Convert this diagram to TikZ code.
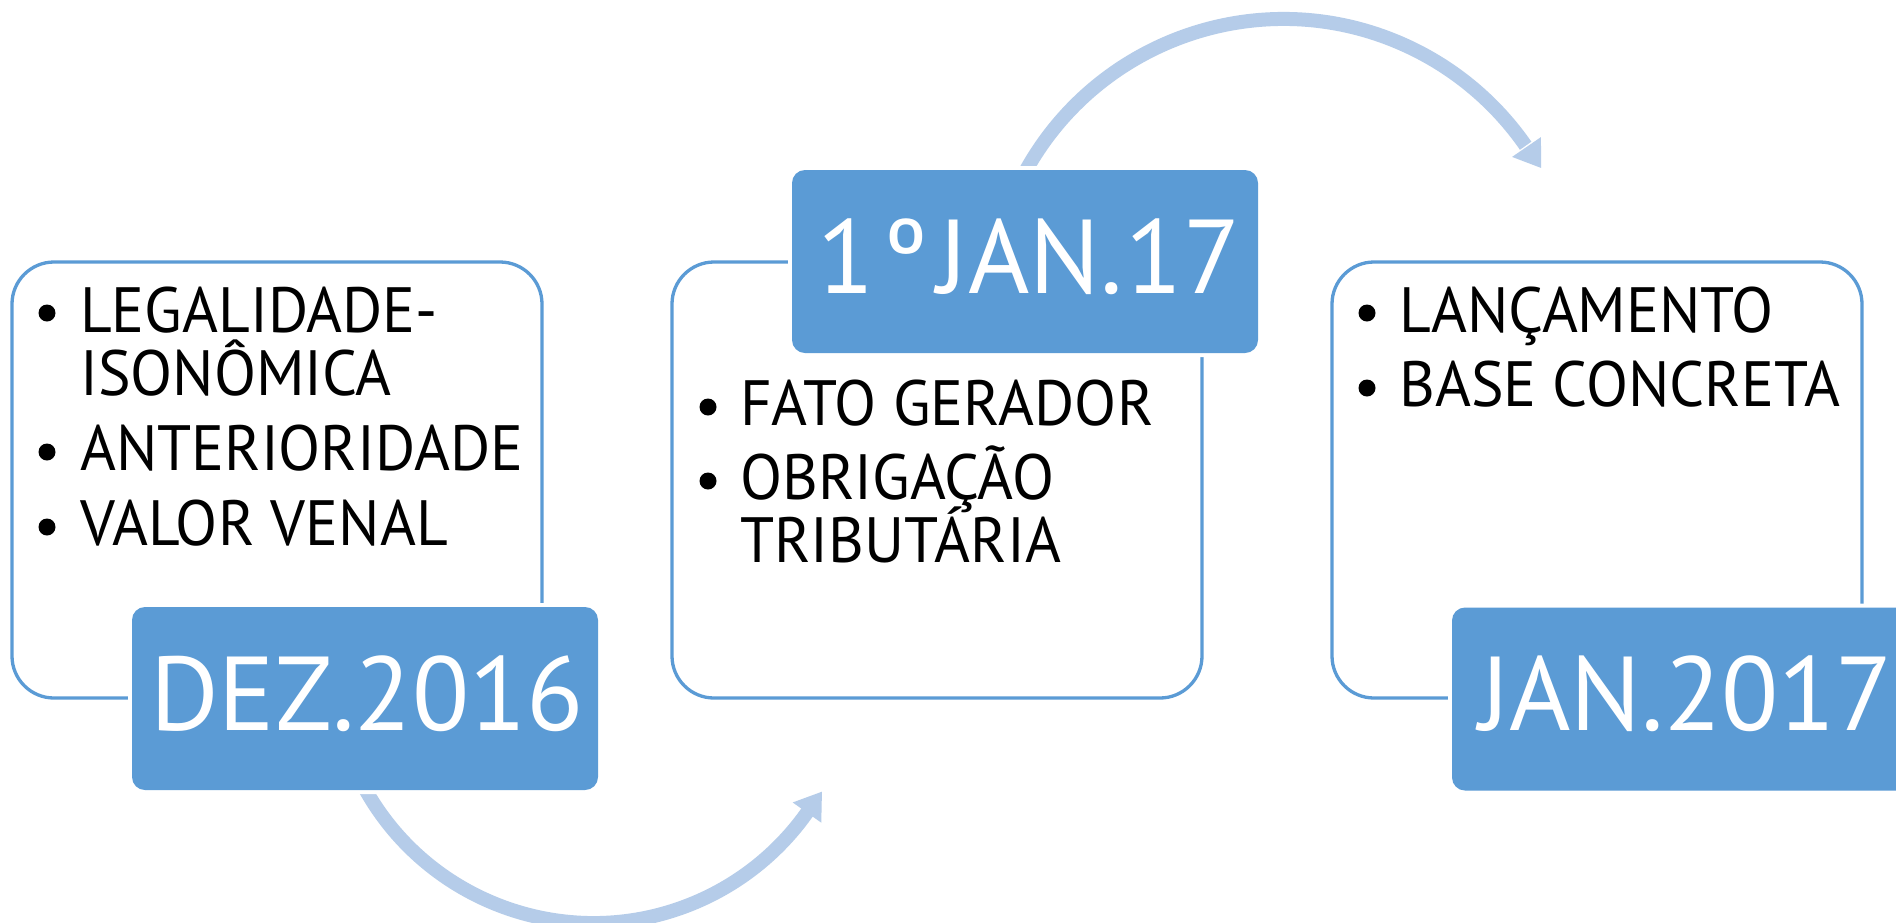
\documentclass[tikz,border=0pt]{standalone}
\usepackage{fontspec}
\setmainfont{PT Sans}
\newfontfamily\itemfont{PT Sans}[FakeStretch=0.96]
\usetikzlibrary{calc}
\definecolor{boxblue}{RGB}{91,155,213}
\definecolor{arrowblue}{RGB}{181,204,233}
\begin{document}
\begin{tikzpicture}[x=1pt,y=-1pt,
  outline/.style={draw=boxblue, line width=3.3pt, rounded corners=42pt, minimum width=530pt, minimum height=436pt, inner sep=0pt, outer sep=0pt},
  datebox/.style={fill=boxblue, rounded corners=13pt, minimum width=466pt, minimum height=183pt, inner sep=0pt, outer sep=0pt, preaction={draw=white, line width=8pt}},
  datetext/.style={text=white, font=\fontsize{105}{105}\selectfont, anchor=base, inner sep=0pt},
  item/.style={text=black, font=\itemfont\fontsize{64}{64}\selectfont, anchor=base west, inner sep=0pt},
  dot/.style={circle, fill=black, minimum size=17pt, inner sep=0pt},
  band/.style={draw=arrowblue, line width=14pt},
  head/.style={fill=arrowblue}]
\useasboundingbox (0,0) rectangle (1896,922);
\clip (0,0) rectangle (1896,922);
\fill[white] (0,0) rectangle (1896,922);
% circular arrows
\coordinate (c1) at (593.5,661.4);
\draw[band] (c1) ++(155:261.6) arc[start angle=155, end angle=35.0, radius=261.6];
\fill[head] ($(c1)+(35.3:244.1)$) -- ($(c1)+(35.3:279.1)$) -- ($(c1)+(29.7:263)$) -- cycle;
\coordinate (c2) at (1283.5,313.7);
\draw[band] (c2) ++(-155:294.7) arc[start angle=-155, end angle=-34.75, radius=294.7];
\fill[head] ($(c2)+(-34.45:277.2)$) -- ($(c2)+(-34.45:312.2)$) -- ($(c2)+(-29.5:296)$) -- cycle;
% outline boxes
\node[outline] (o1) at (277,480) {};
\node[outline] (o2) at (937,480) {};
\node[outline] (o3) at (1597,480) {};
% date boxes
\node[datebox] (b1) at (365,698.5) {};
\node[datebox] (b2) at (1025,261.5) {};
\node[datebox] (b3) at (1685,699) {};
\node[datetext] (d1) at (367,730) {DEZ.2016};
\node[datetext] (d2) at (1029,293) {1\kern11ptº\kern10ptJAN.\kern3pt17};
\node[datetext] (d3) at (1686,730) {JAN.2017};
% box 1 items
\node[dot] (p11) at (47,313) {};
\node[item] (t11) at (80,332) {LEGALIDADE-};
\node[item] (t12) at (80,395) {ISONÔMICA};
\node[dot] (p12) at (47,452) {};
\node[item] (t13) at (80,470) {ANTERIORIDADE};
\node[dot] (p13) at (47,527) {};
\node[item] (t14) at (80,545) {VALOR VENAL};
% box 2 items
\node[dot] (p21) at (708,407) {};
\node[item] (t21) at (740,425) {FATO GERADOR};
\node[dot] (p22) at (708,481) {};
\node[item] (t22) at (740,499) {OBRIGAÇÃO};
\node[item] (t23) at (740,562) {TRIBUTÁRIA};
% box 3 items
\node[dot] (p31) at (1367,313) {};
\node[item] (t31) at (1399,332) {LANÇAMENTO};
\node[dot] (p32) at (1367,388) {};
\node[item] (t32) at (1399,406) {BASE CONCRETA};
\end{tikzpicture}
\end{document}
